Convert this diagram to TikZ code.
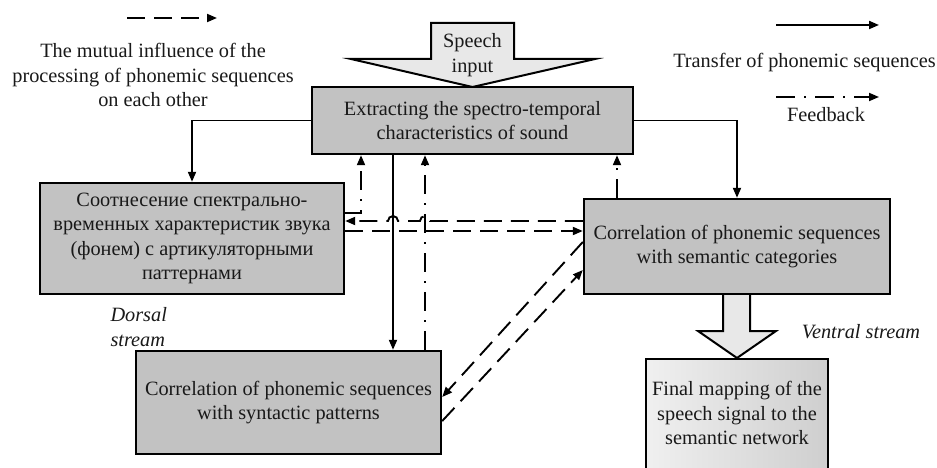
\documentclass[tikz,border=0pt]{standalone}
\usepackage{fontspec}
\setmainfont{Liberation Serif}
\usetikzlibrary{arrows.meta,calc}
\definecolor{boxgray}{gray}{0.76}
\definecolor{arrowgray}{gray}{0.91}
\definecolor{inktext}{gray}{0.1}
\begin{document}
\begin{tikzpicture}[x=1pt,y=-1pt,
  every node/.style={font=\fontsize{20.3}{24.5}\selectfont, text=inktext},
  box/.style={draw, line width=2.4pt, fill=boxgray, inner sep=0pt, align=center},
  tip/.style={-{Triangle[length=10pt,width=8pt]}},
  flow/.style={line width=1.9pt, tip},
  mutual/.style={flow, dash pattern=on 18pt off 9pt},
  feedback/.style={flow, dash pattern=on 19pt off 9pt on 2pt off 9pt},
  bigarrow/.style={draw, line width=2pt, fill=arrowgray, line join=miter},
  streamlabel/.style={font=\fontsize{20.3}{24.5}\selectfont\itshape, align=left}
]
\clip (0,0) rectangle (937,468);
\fill[white] (0,0) rectangle (937,468);

% block arrows: speech input and ventral output
\draw[bigarrow] (431,23) -- (514,23) -- (514,59) -- (595,59) -- (472.5,87)
  -- (351,59) -- (431,59) -- cycle;
\draw[bigarrow] (723,294) -- (723,331) -- (698,331) -- (737,358) -- (776,331)
  -- (750,331) -- (750,294);

% processing stages
\node[box, minimum width=321pt, minimum height=67pt] (extract) at (472.5,120.5)
  {Extracting the spectro-temporal\\characteristics of sound};
\node[box, minimum width=304pt, minimum height=111pt] (dorsal) at (192,238.5)
  {Соотнесение спектрально-\\временных характеристик звука\\(фонем) с артикуляторными\\паттернами};
\node[box, minimum width=306pt, minimum height=95pt] (semantic) at (737,246.5)
  {Correlation of phonemic sequences\\with semantic categories};
\node[box, minimum width=305pt, minimum height=103pt] (syntax) at (288.5,402.5)
  {Correlation of phonemic sequences\\with syntactic patterns};
\node[draw, line width=2.4pt, left color=gray!12, right color=gray!38,
  minimum width=182pt, minimum height=130pt, anchor=north, inner sep=0pt]
  (final) at (737,358) {};
\node[align=center] (finaltext) at (737,413)
  {Final mapping of the\\speech signal to the\\semantic network};

\node (speech) at (472.5,55) [align=center] {Speech\\input};

% connector columns and rows
\coordinate (cB) at (393,0);
\coordinate (cC) at (425,0);
\coordinate (cD) at (617,0);
\coordinate (cE) at (361,213);
\coordinate (cF) at (0,221);
\coordinate (cG) at (0,231);
\coordinate (cH) at (0,242);
\coordinate (cI) at (0,397);
\coordinate (cJ) at (0,421);
\coordinate (cK) at (0,270);

% transfer of phonemic sequences
\draw[flow] (extract.west) -| (dorsal.north);
\draw[flow] (extract.east) -| (semantic.north);
\draw[flow] (extract.south -| cB) -- (syntax.north -| cB);

% feedback
\draw[feedback] (syntax.north -| cC) -- (extract.south -| cC);
\draw[feedback] (semantic.north -| cD) -- (extract.south -| cD);
\draw[feedback] (dorsal.east |- cE) -- (cE) -- (extract.south -| cE);

% mutual influence
\draw[mutual] (semantic.west |- cF) -- ($(cC |- cF)+(5,0)$)
  arc[start angle=0, end angle=180, radius=5pt]
  -- ($(cB |- cF)+(5,0)$)
  arc[start angle=0, end angle=180, radius=5pt]
  -- (dorsal.east |- cF);
\draw[mutual] (dorsal.east |- cG) -- (semantic.west |- cG);
\draw[mutual] (semantic.west |- cH) -- (syntax.east |- cI);
\draw[mutual] (syntax.east |- cJ) -- (semantic.west |- cK);

% legend
\coordinate (lgMa) at (127,18);
\coordinate (lgMb) at (217,18);
\draw[mutual] (lgMa) -- (lgMb);
\node[align=center] (lgMt) at (153,75)
  {The mutual influence of the\\processing of phonemic sequences\\on each other};
\coordinate (lgTa) at (776,25);
\coordinate (lgTb) at (879,25);
\draw[flow] (lgTa) -- (lgTb);
\node (lgTt) at (804.5,63) {Transfer of phonemic sequences};
\coordinate (lgFa) at (776,97);
\coordinate (lgFb) at (879,97);
\draw[feedback] (lgFa) -- (lgFb);
\node (lgFt) at (826,115) {Feedback};

% stream labels
\node[streamlabel, anchor=west] (dorsallabel) at (107,327) {Dorsal\\stream};
\node[streamlabel] (ventrallabel) at (861,332) {Ventral stream};
\end{tikzpicture}
\end{document}
